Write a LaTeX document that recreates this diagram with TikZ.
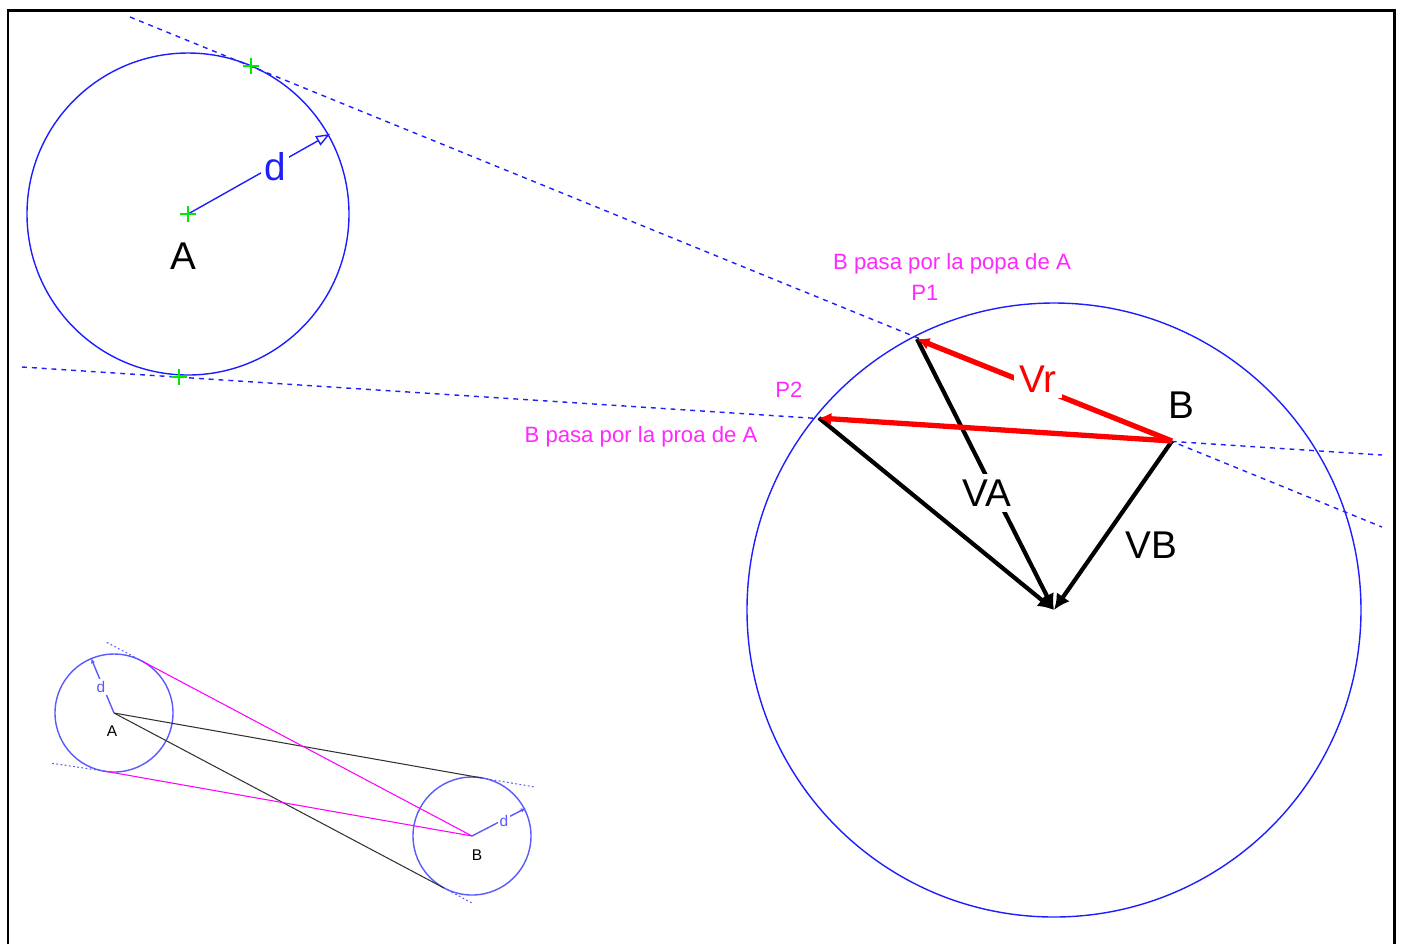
\documentclass[tikz,border=0pt]{standalone}
\usepackage{fontspec}
\setmainfont{Liberation Sans}
\usetikzlibrary{arrows.meta}
\definecolor{ringblue}{RGB}{30,30,255}
\definecolor{softblue}{RGB}{90,90,255}
\definecolor{notepink}{RGB}{255,40,255}
\definecolor{sketchpink}{RGB}{255,0,255}
\definecolor{crossgreen}{RGB}{0,235,0}
\begin{document}
\begin{tikzpicture}[x=0.01cm,y=-0.01cm,
  guide/.style={ringblue,line width=0.4pt,dash pattern=on 1.4pt off 1.4pt},
  dots/.style={softblue,line width=0.3pt,dash pattern=on 0.5pt off 0.7pt},
  ring/.style={ringblue,line width=0.4pt},
  vec/.style={line width=1.2pt,-{Latex[length=4.5pt,width=4.5pt]}},
  rel/.style={red,line width=1.5pt,-{Latex[length=3.5pt,width=3.5pt]}},
  note/.style={text=notepink,font=\fontsize{6.3}{7}\selectfont,inner sep=0pt},
  big/.style={font=\fontsize{11}{12}\selectfont,inner sep=1.5pt,fill=white},
  tiny/.style={font=\fontsize{4.4}{5}\selectfont,inner sep=0.6pt},
  greencross/.pic={\draw[crossgreen,line width=0.4pt] (-8,0) -- (8,0) (0,-8) -- (0,8);}]
\useasboundingbox (0,0) rectangle (1402,944);
\draw[line width=0.85pt] (8,944) -- (8,10) -- (1394,10) -- (1394,944);

% main figure
\coordinate (A) at (188,214);
\coordinate (B) at (1172,441);
\coordinate (O) at (1054,610);
\coordinate (P1) at (917,339);
\coordinate (P2) at (819,418);
\coordinate (T1) at (251,66);
\coordinate (T2) at (179,377);
\coordinate (Dtip) at (330,134);
\coordinate (G1s) at (130,17);
\coordinate (G1e) at (1382,527);
\coordinate (G2s) at (22,367);
\coordinate (G2e) at (1382,455);

\draw[guide] (G1s) -- (G1e);
\draw[guide] (G2s) -- (G2e);
\draw[ring] (A) circle (161);
\draw[ring] (O) circle (307);

\draw[ringblue,line width=0.4pt,-{Triangle[open,length=4pt,width=3pt]}] (A) -- (Dtip);
\node[text=ringblue,font=\fontsize{11}{12}\selectfont,fill=white,inner sep=1pt] (d) at (275,167) {d};
\pic at (A) {greencross};
\pic at (T1) {greencross};
\pic at (T2) {greencross};
\node[font=\fontsize{11}{12}\selectfont] (labA) at (183,256) {A};

\draw[vec] (P1) -- (O);
\draw[vec] (P2) -- (O);
\draw[vec] (B) -- (O);
\draw[rel] (B) -- (P1);
\draw[rel] (B) -- (P2);

\node[big,text=red] (Vr) at (1038,379) {Vr};
\node[big] (VA) at (987,493) {VA};
\node[big] (VB) at (1151,545) {VB};
\node[big,fill=none] (labB) at (1181,405) {B};

\node[note] (popa) at (952,264) {B pasa por la popa de A};
\node[note] (p1) at (925,293) {P1};
\node[note] (p2) at (789,390) {P2};
\node[note] (proa) at (641,437) {B pasa por la proa de A};

% small sketch
\coordinate (sA) at (114,713);
\coordinate (sB) at (472,836);
\coordinate (sTB1) at (482,778);
\coordinate (sTB2) at (444,888);
\coordinate (sTA1) at (142,661);
\coordinate (sTA2) at (104,771);
\coordinate (sEB1) at (535,787);
\coordinate (sEB2) at (472,903);
\coordinate (sEA1) at (106,642);
\coordinate (sEA2) at (50,763);
\coordinate (sdA) at (91,658);
\coordinate (sdB) at (526,808);

\draw[softblue,line width=0.4pt] (sA) circle (59);
\draw[softblue,line width=0.4pt] (sB) circle (59);
\draw[dots] (sTB1) -- (sEB1);
\draw[dots] (sTB2) -- (sEB2);
\draw[dots] (sTA1) -- (sEA1);
\draw[dots] (sTA2) -- (sEA2);
\draw[black!80,line width=0.3pt] (sA) -- (sTB1);
\draw[black!80,line width=0.3pt] (sA) -- (sTB2);
\draw[sketchpink,line width=0.3pt] (sB) -- (sTA1);
\draw[sketchpink,line width=0.3pt] (sB) -- (sTA2);
\draw[softblue,line width=0.4pt,-{Latex[length=1.5pt,width=1.2pt]}] (sA) -- (sdA);
\draw[softblue,line width=0.4pt,-{Latex[length=1.5pt,width=1.2pt]}] (sB) -- (sdB);
\node[tiny,text=softblue,fill=white] (sdlA) at (101,687) {d};
\node[tiny,text=softblue,fill=white] (sdlB) at (504,821) {d};
\node[tiny] (slA) at (112,731) {A};
\node[tiny] (slB) at (477,855) {B};
\end{tikzpicture}
\end{document}
